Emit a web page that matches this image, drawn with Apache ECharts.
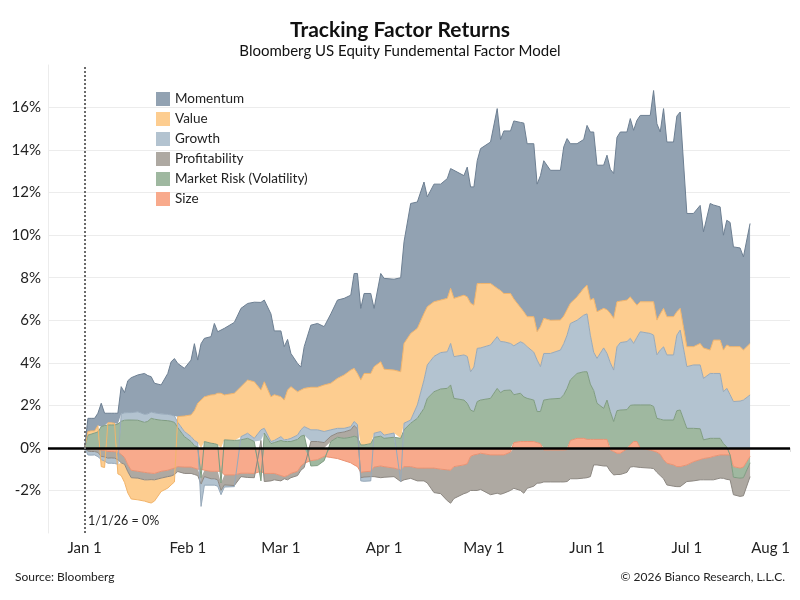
<!DOCTYPE html>
<html>
<head>
<meta charset="utf-8">
<title>Tracking Factor Returns</title>
<script src="https://cdn.jsdelivr.net/npm/echarts@6/dist/echarts.min.js"></script>
<style>
  html, body { margin: 0; padding: 0; background: #fff; }
  #chart { width: 800px; height: 600px; }
</style>
</head>
<body>
<div id="chart"></div>
<script>
// dates of 2026 (MM-DD), cumulative factor returns in %
var dates = [
  '01-01','01-02','01-03','01-04','01-05','01-06','01-07','01-08','01-09','01-10','01-11','01-12','01-13','01-14','01-15','01-17','01-19','01-20','01-21','01-22','01-24','01-26','01-27','01-28','01-29','01-31',
  '02-02','02-03','02-04','02-05','02-06','02-08','02-09','02-10','02-11','02-12','02-15','02-17','02-19','02-21','02-23','02-24','02-26','02-27',
  '03-01','03-02','03-03','03-04','03-06','03-07','03-08','03-10','03-12','03-14','03-16','03-18','03-20','03-22','03-23','03-24','03-25','03-26','03-28','03-29','03-31',
  '04-01','04-04','04-06','04-07','04-09','04-11','04-13','04-14','04-16','04-18','04-20','04-21','04-22','04-25','04-26','04-27','04-28','04-29','04-30',
  '05-03','05-05','05-06','05-07','05-09','05-10','05-12','05-13','05-14','05-16','05-17','05-18','05-19','05-21','05-24','05-25','05-26','05-27','05-29','05-31',
  '06-01','06-02','06-03','06-04','06-06','06-07','06-08','06-09','06-10','06-11','06-13','06-14','06-15','06-16','06-17','06-20','06-21','06-22','06-23','06-24','06-25','06-27','06-28','06-29',
  '07-01','07-03','07-05','07-06','07-08','07-09','07-11','07-12','07-13','07-14','07-15','07-17','07-18','07-20'
];

var size = [
  0, -0.03, -0.05, -0.05, -0.06, -0.1, -0.12, -0.17, -0.17, -0.18, -0.2, -0.3, -0.45, -0.8, -1.05, -1.1, -1.15, -1.17, -1.19, -1.2, -1.1, -1.05, -1.0, -0.95, -0.88, -0.9,
  -0.9, -0.95, -1.0, -1.0, -1.05, -1.1, -1.1, -1.1, -1.1, -1.27, -1.27, -1.19, -1.19, -1.2, -1.1, -1.2, -1.2, -1.2,
  -1.3, -1.35, -1.3, -1.2, -1.1, -0.85, -0.72, -0.6, -0.55, -0.4, -0.45, -0.5, -0.6, -0.7, -0.8, -0.88, -1.15, -1.12, -1.1, -0.9, -0.85,
  -0.88, -0.95, -1.03, -0.88, -0.88, -0.95, -0.95, -0.95, -0.95, -1.0, -1.03, -1.05, -0.88, -0.8, -0.75, -0.4, -0.33, -0.3, -0.25,
  -0.33, -0.33, -0.33, -0.33, -0.2, 0.25, 0.3, 0.3, 0.3, 0.3, 0.25, 0.2, -0.1, -0.1, -0.1, -0.1, -0.08, 0.35, 0.45, 0.45,
  0.4, 0.4, 0.4, 0.4, 0.4, 0.4, -0.1, -0.17, -0.25, -0.25, -0.05, 0.15, 0.3, 0.3, -0.02, -0.1, -0.15, -0.2, -0.3, -0.55, -0.72, -0.8, -0.88, -0.88,
  -0.8, -0.65, -0.55, -0.5, -0.45, -0.4, -0.33, -0.33, -0.33, -0.33, -0.88, -0.95, -0.9, -0.4
];

var marketRisk = [
  0, 0.6, 0.65, 0.7, 0.75, 1.0, 1.05, 1.08, 1.08, 1.08, 1.12, 1.25, 1.3, 1.31, 1.31, 1.3, 1.2, 1.25, 1.39, 1.35, 1.3, 1.28, 1.25, 1.2, 0.95, 0.53,
  0.3, 0.1, 0.05, -0.4, 0.3, 0.22, 0.2, 0.15, -0.55, 0.38, 0.35, 0.38, 0.45, 0.3, -0.45, 0.7, 0.2, 0.25,
  0.35, 0.3, 0.3, 0.3, 0.4, 0.55, 0.6, -0.25, -0.28, -0.2, 0.3, 0.5, 0.45, 0.5, 0.55, 0.5, 0.14, 0.14, 0.2, 0.5, 0.55,
  0.45, 0.5, 0.45, 0.85, 1.16, 1.39, 1.86, 2.33, 2.64, 2.77, 2.8, 2.96, 2.33, 2.25, 2.1, 1.78, 1.71, 2.18, 2.25,
  2.33, 2.8, 2.6, 2.7, 2.72, 2.25, 2.27, 2.1, 2.03, 1.95, 1.46, 1.51, 2.25, 2.3, 2.33, 2.5, 2.8, 2.85, 3.05, 3.13,
  3.18, 2.6, 2.3, 1.7, 1.46, 1.85, 1.7, 1.24, 1.75, 1.78, 1.8, 1.85, 1.72, 1.72, 2.02, 2.02, 1.95, 1.39, 1.35, 1.31, 1.31, 1.31, 1.75, 1.78,
  0.92, 0.92, 0.9, 0.38, 0.45, 0.45, 0.45, 0.2, 0.05, 0.0, -0.5, -0.47, -0.5, -0.3
];

var profitability = [
  0, -0.12, -0.12, -0.12, -0.15, -0.3, -0.3, -0.31, -0.3, -0.3, -0.35, -0.4, -0.32, -0.32, -0.35, -0.32, -0.35, -0.33, -0.3, -0.3, -0.32, -0.3, -0.32, -0.3, -0.23, -0.3,
  -0.3, -0.3, -0.3, -0.3, -0.3, -0.35, -0.35, -0.4, -0.35, -0.47, -0.5, -0.16, -0.2, -0.2, 0.35, -0.38, -0.35, -0.3,
  -0.25, -0.1, -0.2, -0.2, -0.2, -0.2, -0.2, 0.3, 0.3, 0.25, 0.25, 0.2, 0.3, 0.35, 0.5, 0.4, -0.25, -0.25, -0.25, -0.45, -0.55,
  -0.5, -0.4, -0.55, -0.62, -0.55, -0.6, -0.6, -0.7, -1.15, -1.15, -1.45, -1.55, -1.5, -1.35, -1.35, -1.6, -1.67, -1.7, -1.7,
  -1.87, -1.8, -1.85, -1.8, -1.8, -1.9, -2.0, -2.13, -1.9, -1.8, -1.66, -1.65, -1.5, -1.5, -1.5, -1.5, -1.5, -1.45, -1.45, -1.42,
  -1.4, -1.35, -0.8, -0.8, -0.85, -0.85, -1.0, -1.1, -1.0, -1.0, -1.1, -0.9, -0.88, -0.9, -0.9, -0.85, -0.82, -0.95, -1.0, -0.9, -1.02, -1.0, -0.94, -0.94,
  -0.78, -0.9, -0.95, -1.0, -1.05, -1.1, -1.09, -1.1, -1.15, -1.17, -0.82, -0.86, -0.85, -0.65
];

var growth = [
  0, -0.18, -0.17, -0.16, -0.2, -0.15, -0.2, -0.24, -0.25, -0.25, -0.22, 0.35, 0.35, 0.35, 0.35, 0.4, 0.38, 0.35, 0.3, 0.3, 0.3, 0.3, 0.3, 0.3, 0.25, 0.24,
  0.23, 0.25, 0.2, -1.05, -0.4, -0.3, -0.3, -0.3, -0.2, -0.1, -0.05, 0.15, 0.24, 0.15, 0.5, 0.22, 0.1, 0.1,
  0.18, 0.08, 0.1, 0.15, 0.2, 0.3, 0.4, 0.55, 0.55, 0.52, 0.3, 0.22, 0.17, 0.15, 0.19, 0.2, -0.15, -0.2, -0.2, 0.19, 0.22,
  0.15, 0.2, 0.0, 0.31, 0.15, 0.63, 1.33, 1.57, 1.66, 1.71, 1.72, 1.95, 1.96, 2.12, 2.2, 1.8, 2.09, 2.5, 2.45,
  2.51, 2.43, 2.4, 2.29, 2.19, 2.3, 2.42, 2.51, 2.43, 2.25, 2.42, 2.11, 2.19, 2.14, 2.27, 2.4, 2.5, 2.65, 2.5, 2.66,
  2.72, 2.3, 1.8, 2.11, 2.84, 2.19, 2.3, 2.42, 3.0, 3.17, 3.2, 3.15, 2.89, 3.18, 3.44, 3.36, 3.35, 2.98, 3.25, 3.44, 3.06, 3.06, 3.55, 3.76,
  2.9, 2.98, 3.0, 2.89, 3.05, 3.05, 3.05, 2.44, 2.75, 2.5, 2.18, 2.2, 2.25, 2.49
];

var valueFactor = [
  0, 0.17, 0.15, 0.1, 0.3, -0.33, -0.3, 0.1, 0.1, 0.08, -0.45, -0.6, -0.85, -1.0, -1.0, -1.02, -1.0, -1.05, -1.1, -1.0, -0.63, -0.54, -0.42, -0.35, 0.27, 0.73,
  1.02, 1.4, 1.85, 2.25, 2.1, 2.27, 2.3, 2.42, 2.57, 2.11, 2.22, 2.35, 2.5, 2.66, 1.87, 2.19, 2.1, 2.15,
  1.88, 1.87, 2.32, 2.43, 2.04, 1.87, 1.8, 2.0, 2.0, 2.19, 2.19, 2.35, 2.51, 2.66, 2.5, 2.4, 3.05, 3.36, 3.3, 3.13, 3.28,
  3.1, 2.96, 3.13, 3.75, 4.07, 3.6, 3.13, 2.74, 2.57, 2.47, 2.51, 2.59, 2.74, 2.81, 2.8, 3.22, 2.91, 3.05, 3.03,
  2.89, 2.27, 2.4, 2.27, 2.35, 2.2, 1.61, 1.49, 1.41, 1.67, 1.33, 1.88, 1.65, 1.56, 1.41, 1.3, 1.2, 0.95, 1.1, 1.26,
  1.35, 1.65, 2.53, 2.19, 1.86, 2.06, 2.32, 2.43, 2.12, 1.95, 1.95, 1.95, 1.99, 1.51, 1.41, 1.49, 1.57, 1.64, 1.7, 1.81, 1.8, 1.8, 1.1, 1.02,
  0.94, 0.86, 1.01, 1.43, 1.1, 1.57, 1.57, 1.96, 2.04, 2.26, 2.58, 2.56, 2.35, 2.42
];

var momentum = [
  0, 0.62, 0.59, 0.59, 0.58, 1.1, 0.58, 0.45, 0.45, 0.47, 0.51, 1.28, 0.95, 1.5, 1.64, 1.73, 1.92, 1.8, 1.66, 1.39, 1.36, 1.92, 2.5, 2.7, 2.5, 2.24,
  2.58, 3.15, 2.03, 2.65, 2.75, 2.74, 3.35, 2.89, 2.97, 3.13, 3.33, 3.68, 3.6, 3.74, 4.12, 3.84, 3.9, 3.0,
  3.09, 2.51, 2.38, 1.56, 1.33, 1.08, 1.96, 2.92, 3.0, 2.74, 3.26, 3.68, 3.6, 3.52, 4.46, 4.7, 3.37, 3.76, 3.76, 2.74, 4.15,
  4.27, 4.27, 4.42, 4.78, 6.11, 5.94, 6.18, 5.16, 5.53, 5.45, 5.63, 5.63, 6.02, 5.62, 6.1, 5.47, 5.56, 5.77, 6.34,
  6.65, 8.45, 7.1, 7.64, 7.64, 8.37, 8.7, 8.87, 8.13, 8.13, 6.94, 7.1, 7.41, 7.05, 7.04, 7.95, 8.04, 7.5, 7.2, 7.0,
  7.51, 7.9, 7.82, 6.89, 6.73, 7.26, 6.78, 6.81, 7.73, 7.95, 7.9, 8.38, 8.03, 8.69, 8.76, 8.76, 9.93, 9.23, 8.55, 9.39, 8.21, 8.21, 9.2, 9.23,
  6.26, 6.26, 6.49, 5.46, 6.89, 6.35, 6.26, 5.4, 5.86, 5.84, 4.69, 4.64, 4.38, 5.64
];

var monthLabels = ['Jan 1', 'Feb 1', 'Mar 1', 'Apr 1', 'May 1', 'Jun 1', 'Jul 1', 'Aug 1'];
var yLabels = [-2, 0, 2, 4, 6, 8, 10, 12, 14, 16];

var DAY = 86400000;
function tsOf(s) {
  var p = s.split('-');
  return new Date(2026, +p[0] - 1, +p[1]).getTime();
}
var times = dates.map(tsOf);
function pairs(arr) {
  return times.map(function(t, i) { return [t, arr[i]]; });
}
var xMin = new Date(2025, 11, 21).getTime();
var xMax = new Date(2026, 7, 1).getTime();
var jan1 = new Date(2026, 0, 1).getTime();

var chart = echarts.init(document.getElementById('chart'));
var font = 'Lato, "Noto Sans", sans-serif';

// stacking order: first series sits next to zero
var factors = [
  ['Size', size, '#f8aa8c', '#ea9272'],
  ['Market Risk (Volatility)', marketRisk, '#9fb8a0', '#7f9c81'],
  ['Profitability', profitability, '#aea9a2', '#8d8882'],
  ['Growth', growth, '#b3c3d0', '#97a9ba'],
  ['Value', valueFactor, '#fdcd90', '#f2b46a'],
  ['Momentum', momentum, '#92a2b2', '#6d7f92']
];

var series = factors.map(function(f) {
  return {
    name: f[0],
    type: 'line',
    stack: 'factors',
    data: pairs(f[1]),
    showSymbol: false,
    symbol: 'none',
    itemStyle: { color: f[2] },
    lineStyle: { color: f[3], width: 1 },
    areaStyle: { color: f[2], opacity: 1 }
  };
});

// zero line and the 1/1/26 marker
series[series.length - 1].markLine = {
  silent: true,
  symbol: 'none',
  label: { show: false },
  animation: false,
  data: [
    { yAxis: 0, lineStyle: { color: '#000', width: 2.5, type: 'solid' } },
    { xAxis: jan1, lineStyle: { color: '#6a6a6a', width: 2, type: [2, 2] } }
  ]
};

var option = {
  animation: false,
  backgroundColor: '#fff',
  title: {
    text: 'Tracking Factor Returns',
    subtext: 'Bloomberg US Equity Fundemental Factor Model',
    left: 'center',
    top: 15,
    itemGap: 3,
    textStyle: { fontFamily: font, fontSize: 21, fontWeight: 'bold', color: '#111' },
    subtextStyle: { fontFamily: font, fontSize: 15, color: '#111' }
  },
  legend: {
    orient: 'vertical',
    left: 151,
    top: 87,
    icon: 'rect',
    itemWidth: 14,
    itemHeight: 14,
    itemGap: 6,
    data: ['Momentum', 'Value', 'Growth', 'Profitability', 'Market Risk (Volatility)', 'Size'],
    textStyle: { fontFamily: font, fontSize: 13.5, color: '#222' }
  },
  grid: { left: 48, right: 10, top: 65, bottom: 67, containLabel: false, outerBoundsMode: 'none' },
  xAxis: {
    type: 'time',
    min: xMin,
    max: xMax,
    splitNumber: 8,
    minInterval: 28 * DAY,
    maxInterval: 31 * DAY,
    axisLine: { show: true, lineStyle: { color: '#e3e3e3' } },
    axisTick: { show: true, length: 4, lineStyle: { color: '#dddddd' } },
    axisLabel: {
      margin: 8,
      fontFamily: font,
      fontSize: 15,
      color: '#222',
      showMinLabel: false,
      formatter: function(v) {
        var d = new Date(v);
        // the last label (Aug 1) sits flush right, drawn below
        if (d.getFullYear() !== 2026 || d.getDate() !== 1 || d.getMonth() > 6) return '';
        return monthLabels[d.getMonth()] || '';
      }
    },
    splitLine: { show: false }
  },
  yAxis: {
    type: 'value',
    min: -4,
    max: 18,
    interval: 2,
    axisLine: { show: true, lineStyle: { color: '#ececec' } },
    axisTick: { show: false },
    axisLabel: {
      margin: 7,
      fontFamily: font,
      fontSize: 15,
      color: '#222',
      formatter: function(v) {
        return yLabels.indexOf(v) < 0 ? '' : v + '%';
      }
    },
    splitLine: { show: true, showMinLine: false, showMaxLine: false, lineStyle: { color: '#ececec' } }
  },
  graphic: [
    { type: 'text', right: 10, top: 541, style: { text: monthLabels[7], font: '15px ' + font, fill: '#222' } },
    { type: 'text', left: 88, top: 514, style: { text: '1/1/26 = 0%', font: '12.5px ' + font, fill: '#222' } },
    { type: 'text', left: 15, top: 571, style: { text: 'Source: Bloomberg', font: '12px ' + font, fill: '#222' } },
    { type: 'text', right: 15, top: 571, style: { text: '\u00a9 2026 Bianco Research, L.L.C.', font: '12px ' + font, fill: '#222' } }
  ],
  series: series
};

chart.setOption(option);
</script>
</body>
</html>
